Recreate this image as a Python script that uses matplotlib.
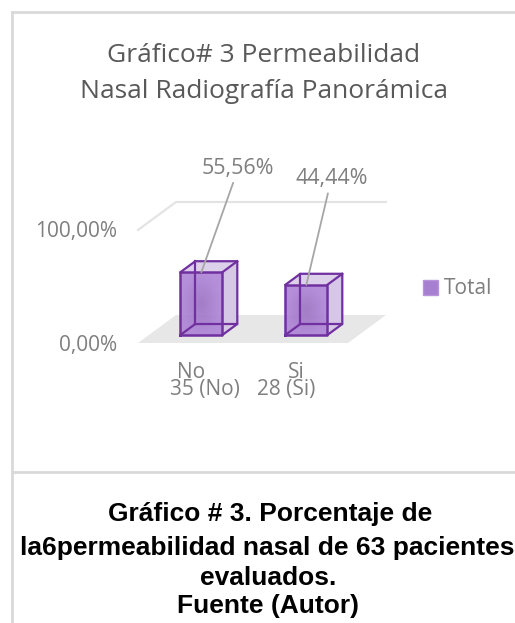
import numpy as np
import matplotlib
matplotlib.use("Agg")
import matplotlib.pyplot as plt
from matplotlib.patches import Polygon, Patch

# data
categories = ["No", "Si"]
counts_labels = ["35 (No)", "28 (Si)"]
values = [0.5556, 0.4444]
value_labels = ["55,56%", "44,44%"]
y_ticks = [0.0, 1.0]
y_tick_labels = ["0,00%", "100,00%"]
legend_label = "Total"

title_lines = ["Gráfico# 3 Permeabilidad", "Nasal Radiografía Panorámica"]
caption = ["Gráfico # 3. Porcentaje de",
           "la6permeabilidad nasal de 63 pacientes",
           "evaluados.",
           "Fuente (Autor)"]

W, H = 515, 623
fig = plt.figure(figsize=(W / 100, H / 100), dpi=100)
fig.patch.set_facecolor("white")

# page / frame layer in pixel coords
bg = fig.add_axes([0, 0, 1, 1])
bg.set_xlim(0, W)
bg.set_ylim(H, 0)
bg.axis("off")
frame_c = "#D9D9D9"
bg.plot([11.5, 11.5], [11.5, H], color=frame_c, lw=2)
bg.plot([11.5, W], [11.5, 11.5], color=frame_c, lw=2)
bg.plot([11.5, W], [472, 472], color=frame_c, lw=2)

gray_txt = "#7F7F7F"
font = "Open Sans"
for line, yy in zip(title_lines, [55, 92]):
    bg.text(264, yy, line, ha="center", va="center", fontsize=19, color="#595959",
            family=font)

cap_y = [514, 548, 578, 606]
cap_x = [270, 267, 268, 268]
for line, xx, yy in zip(caption, cap_x, cap_y):
    bg.text(xx, yy, line, ha="center", va="center", fontsize=19, color="black",
            family="Liberation Sans", fontweight="bold")

# chart axes: front floor from x 138..348, y 343 (0%) .. 230 (100%)
ax = fig.add_axes([138 / W, (H - 343) / H, 210 / W, 113 / H])
ax.set_xlim(-0.5, len(categories) - 0.5)
ax.set_ylim(0, 1)
ax.axis("off")

PX = (len(categories)) / 210.0
PY = 1.0 / 113.0
SLOPE = 38.0 / 28.0


def shift(d):
    return d * SLOPE * PX, d * PY


x0, x1 = -0.5, len(categories) - 0.5
fdx, fdy = shift(28)
# floor
ax.add_patch(Polygon([(x0, 0), (x1, 0), (x1 + fdx, fdy), (x0 + fdx, fdy)],
                     closed=True, fc="#E7E7E7", ec="none", clip_on=False, zorder=1))
# gridline at 100% (left side + back wall)
ax.plot([x0, x0 + fdx, x1 + fdx], [1, 1 + fdy, 1 + fdy], color="#E3E3E3",
        lw=1.5, clip_on=False, zorder=1)

fs = 15
# y tick labels
for t, lab in zip(y_ticks, y_tick_labels):
    ax.annotate(lab, (x0, t), xytext=(-21, -2), textcoords="offset pixels",
                ha="right", va="center", fontsize=fs, color=gray_txt, family=font)

edge_c = "#7030A0"
bw = 0.4
fdx1, fdy1 = shift(8)
bdx, bdy = shift(19)

# radial gradient for front faces
gx, gy = np.meshgrid(np.linspace(-1, 1, 60), np.linspace(-1, 1, 60))
rr = np.clip(np.sqrt(gx ** 2 + gy ** 2), 0, 1)
c_in = np.array([150, 108, 190]) / 255.0
c_out = np.array([172, 128, 214]) / 255.0
grad = c_in[None, None, :] * (1 - rr[..., None]) + c_out[None, None, :] * rr[..., None]

label_offsets = [(37, 104), (25, 106)]
level2_offsets = [14, -9]

for i, v in enumerate(values):
    fl, fr = i - bw / 2 + fdx1, i + bw / 2 + fdx1
    fb, ft = fdy1, fdy1 + v
    bl, br = fl + (bdx - fdx1), fr + (bdx - fdx1)
    bb, btp = bdy, bdy + v
    kw = dict(clip_on=False)
    # right side face
    ax.add_patch(Polygon([(fr, fb), (br, bb), (br, btp), (fr, ft)], closed=True,
                         fc="#D6C7E6", ec="none", zorder=3, **kw))
    # top face
    ax.add_patch(Polygon([(fl, ft), (fr, ft), (br, btp), (bl, btp)], closed=True,
                         fc="#DDD0EA", ec="none", zorder=3, **kw))
    # front face gradient
    face = Polygon([(fl, fb), (fr, fb), (fr, ft), (fl, ft)], closed=True,
                   fc="none", ec="none", zorder=5, **kw)
    ax.add_patch(face)
    im = ax.imshow(grad, extent=(fl, fr, fb, ft), aspect="auto", alpha=0.88,
                   zorder=5, interpolation="bilinear")
    im.set_clip_path(face)
    # hidden edges seen through the box
    ax.plot([bl, bl], [bb, btp], color=edge_c, lw=1.6, zorder=6, **kw)
    ax.plot([fl, bl], [fb, bb], color=edge_c, lw=1.6, zorder=6, **kw)
    ax.plot([bl, br], [bb, bb], color=edge_c, lw=1.6, zorder=6, **kw)
    # visible edges
    ax.plot([fl, fr, fr, fl, fl], [fb, fb, ft, ft, fb], color=edge_c, lw=1.8, zorder=7, **kw)
    ax.plot([fr, br, br, bl, fl], [fb, bb, btp, btp, ft], color=edge_c, lw=1.6, zorder=7, **kw)
    ax.plot([fr, br], [ft, btp], color=edge_c, lw=1.6, zorder=7, **kw)

    # data label with leader line
    ox, oy = label_offsets[i]
    ax.annotate(value_labels[i], (i + fdx1, ft), xytext=(ox, oy),
                textcoords="offset pixels", ha="center", va="center",
                fontsize=15.5, color=gray_txt, family=font, zorder=8,
                arrowprops=dict(arrowstyle="-", color="#A6A6A6", lw=1.3,
                                shrinkA=1, shrinkB=0))

    # category labels (two levels)
    ax.annotate(categories[i], (i, 0), xytext=(1, -29), textcoords="offset pixels",
                ha="center", va="center", fontsize=fs, color=gray_txt, family=font)
    ax.annotate(counts_labels[i], (i, 0), xytext=(level2_offsets[i], -46),
                textcoords="offset pixels", ha="center", va="center",
                fontsize=fs, color=gray_txt, family=font)

# legend
leg = fig.legend(handles=[Patch(fc="#A67FD0", ec="#B894DC", label=legend_label)],
                 loc="center left", bbox_to_anchor=(415 / W, (H - 289) / H),
                 frameon=False, prop={"family": font, "size": fs},
                 handlelength=0.7, handleheight=0.7, handletextpad=0.3,
                 borderaxespad=0)
for t in leg.get_texts():
    t.set_color(gray_txt)

fig.savefig("out.png", dpi=100, facecolor="white")
